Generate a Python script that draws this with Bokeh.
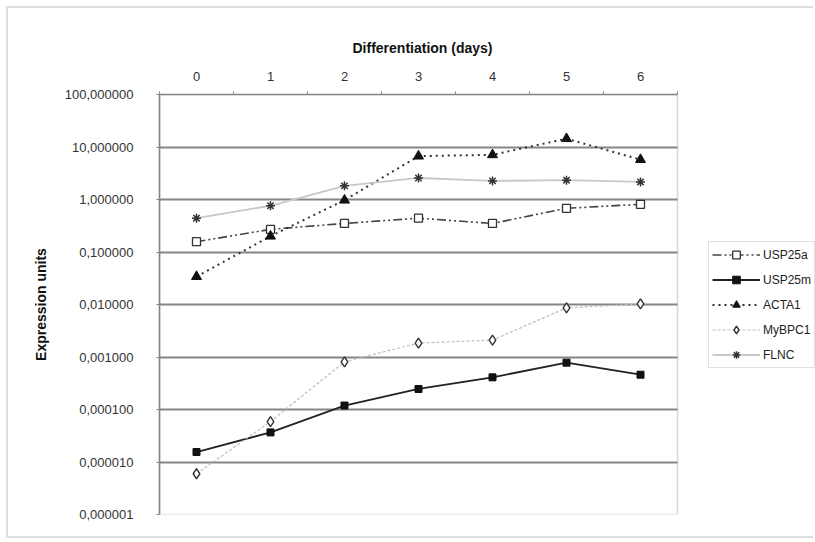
from bokeh.plotting import figure
from bokeh.models import FixedTicker, Legend, LegendItem, BoxAnnotation
from bokeh.embed import file_html
from bokeh.resources import INLINE

# ---- data ----
days = [0, 1, 2, 3, 4, 5, 6]
day_labels = ["0", "1", "2", "3", "4", "5", "6"]
usp25a = [0.157, 0.27, 0.35, 0.44, 0.35, 0.68, 0.81]
usp25m = [1.55e-5, 3.66e-5, 1.19e-4, 2.46e-4, 4.1e-4, 7.8e-4, 4.6e-4]
acta1 = [0.034, 0.20, 0.97, 6.7, 7.1, 14.4, 5.75]
mybpc1 = [5.97e-6, 5.9e-5, 8.1e-4, 1.84e-3, 2.1e-3, 8.6e-3, 1.03e-2]
flnc = [0.44, 0.76, 1.82, 2.57, 2.26, 2.33, 2.16]
y_ticks = [1e-6, 1e-5, 1e-4, 1e-3, 1e-2, 1e-1, 1.0, 10.0, 100.0]
y_tick_labels = ["0,000001", "0,000010", "0,000100", "0,001000", "0,010000",
                 "0,100000", "1,000000", "10,000000", "100,000000"]
x_title = "Differentiation (days)"
y_title = "Expression units"

FONT = "Liberation Sans"
GRID = "#858585"

# plot area spans days -0.5..6.5 (518 px); the frame continues right to hold the legend
X0, X1 = -0.5, 6.5
W, H = 807, 532
LEFT = 151
px_per_day = 518 / 7
x_end = X0 + (W - LEFT) / px_per_day

p = figure(width=W, height=H, output_backend="svg", toolbar_location=None,
           y_axis_type="log", y_range=(1e-6, 100), x_range=(X0, x_end),
           x_axis_location="above", min_border_left=LEFT, min_border_right=0,
           min_border_top=86, min_border_bottom=26)
p.styles = {"margin-left": "6px", "margin-top": "6px",
            "border-left": "2px solid #dedede", "border-top": "2px solid #dedede",
            "border-bottom": "2px solid #dedede"}
p.background_fill_color = "white"
p.border_fill_color = "white"
p.outline_line_color = None

# x-axis title (placed as the figure title so it centres over the plot area)
p.title.text = x_title
p.title.text_font = FONT
p.title.text_font_size = "14px"
p.title.text_font_style = "bold"
p.title.text_color = "#111111"
p.title.align = "left"
p.title.offset = 193
p.title.standoff = 26

# plot-area border
p.add_layout(BoxAnnotation(left=X0, right=X1, bottom=y_ticks[0], top=y_ticks[-1],
                           fill_alpha=0, line_color=GRID, line_width=1.6))

# x axis (top)
xa = p.xaxis[0]
xa.bounds = (X0, X1)
xa.ticker = FixedTicker(ticks=days, minor_ticks=[d - 0.5 for d in days] + [X1])
xa.major_label_overrides = {d: l for d, l in zip(days, day_labels)}
xa.major_label_text_font = FONT
xa.major_label_text_font_size = "13px"
xa.major_label_text_color = "#333333"
xa.major_label_standoff = 11
xa.major_tick_out = 0
xa.major_tick_in = 0
xa.minor_tick_out = 3
xa.minor_tick_in = 0
xa.minor_tick_line_color = GRID
xa.axis_line_color = GRID
xa.axis_line_width = 1.6

# y axis (left)
ya = p.yaxis[0]
ya.ticker = FixedTicker(ticks=y_ticks, minor_ticks=[])
ya.major_label_overrides = {t: l for t, l in zip(y_ticks, y_tick_labels)}
ya.axis_label = y_title
ya.axis_label_text_font = FONT
ya.axis_label_text_font_style = "bold"
ya.axis_label_text_font_size = "14px"
ya.axis_label_text_color = "#111111"
ya.axis_label_standoff = 13
ya.major_label_text_font = FONT
ya.major_label_text_font_size = "13px"
ya.major_label_text_color = "#333333"
ya.major_label_standoff = 23
ya.major_tick_out = 3
ya.major_tick_in = 0
ya.major_tick_line_color = GRID
ya.axis_line_color = GRID
ya.axis_line_width = 1.6

p.xgrid.visible = False
p.ygrid.ticker = FixedTicker(ticks=y_ticks)
p.ygrid.grid_line_color = GRID
p.ygrid.grid_line_width = 1.8
p.ygrid.minor_grid_line_color = None
try:
    p.ygrid.cross_bounds = (X0, X1)
except AttributeError:
    p.ygrid.visible = False
    p.multi_line([[X0, X1] for _ in y_ticks], [[t, t] for t in y_ticks],
                 line_color=GRID, line_width=1.8)

# ---- series ----
items = []

l = p.line(days, usp25a, line_color="#444444", line_width=1.6, line_dash="9 3 2 3 2 3")
s = p.scatter(days, usp25a, marker="square", size=8, fill_color="white",
              line_color="#333333", line_width=1.3)
items.append(LegendItem(label="USP25a", renderers=[l, s]))

l = p.line(days, usp25m, line_color="#222222", line_width=1.8)
s = p.scatter(days, usp25m, marker="square", size=7, fill_color="#111111",
              line_color="#111111")
items.append(LegendItem(label="USP25m", renderers=[l, s]))

l = p.line(days, acta1, line_color="#333333", line_width=2, line_dash="2 4")
s = p.scatter(days, acta1, marker="triangle", size=10, fill_color="#111111",
              line_color="#111111")
items.append(LegendItem(label="ACTA1", renderers=[l, s]))

l = p.line(days, mybpc1, line_color="#bdbdbd", line_width=1.2, line_dash="3 2")
s = p.scatter(days, mybpc1, marker="diamond", size=10, fill_color="white",
              line_color="#333333", line_width=1.4)
items.append(LegendItem(label="MyBPC1", renderers=[l, s]))

l = p.line(days, flnc, line_color="#c8c8c8", line_width=1.8)
s = p.scatter(days, flnc, marker="asterisk", size=9, line_color="#333333",
              line_width=1.5)
items.append(LegendItem(label="FLNC", renderers=[l, s]))

legend = Legend(items=items, location=(549, 146), orientation="vertical")
legend.label_text_font = FONT
legend.label_text_font_size = "12px"
legend.label_text_color = "#222222"
legend.glyph_width = 48
legend.glyph_height = 19
legend.label_height = 19
legend.label_standoff = 3
legend.spacing = 6
legend.padding = 3
legend.margin = 0
legend.border_line_color = "#c4c4c4"
legend.border_line_width = 1
legend.background_fill_color = "white"
legend.background_fill_alpha = 1.0
p.add_layout(legend, "center")

open("out.html", "w").write(file_html(p, INLINE))
